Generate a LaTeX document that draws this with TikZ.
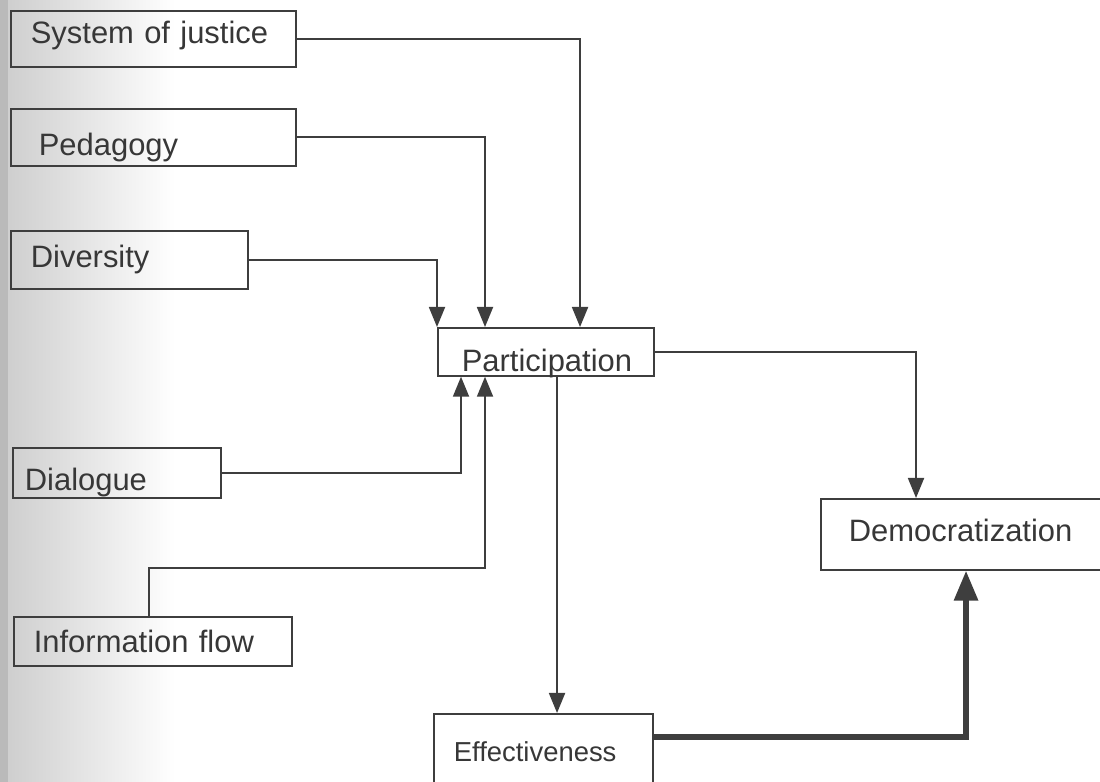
\documentclass[tikz,border=0pt]{standalone}
\usepackage{fontspec}
\setmainfont{Liberation Sans}
\usetikzlibrary{arrows.meta,positioning,calc}
\definecolor{inkgray}{RGB}{62,62,62}
\definecolor{textgray}{RGB}{55,55,55}
\tikzset{
    % Factor box style
    factor/.style={
        rectangle, draw=inkgray, line width=1.2pt,
        anchor=north west, align=left,
        inner xsep=0.5cm, inner ysep=0pt, text depth=0pt,
        text=textgray, font=\fontsize{22}{26}\selectfont
    },
    % Connector style
    flow/.style={
        -{Triangle[length=0.5cm,width=0.4cm]}, draw=inkgray, line width=1.3pt
    },
    % Bold connector style
    boldflow/.style={
        -{Triangle[length=0.75cm,width=0.58cm]}, draw=inkgray, line width=4pt
    }
}

\begin{document}
\begin{tikzpicture}[x=0.025cm, y=-0.025cm]
\useasboundingbox (0,0) rectangle (1100,782);
\clip (0,0) rectangle (1100,782);
% scanned page shading on the left
\shade[left color=black!19, right color=white] (8,0) rectangle (175,782);
\fill[black!27] (0,0) rectangle (8,782);

% Input factors
\node[factor, text width=6.125cm, minimum height=1.4cm, text height=0.25cm] (justice) at (10,10) {System of justice};
\node[factor, text width=6.125cm, minimum height=1.425cm, text height=0.925cm] (pedagogy) at (10,108) {\hspace{0.2cm}Pedagogy};
\node[factor, text width=4.6cm, minimum height=1.25cm, inner xsep=0.3cm, text height=0.9cm] (dialogue) at (12,447) {Dialogue};
\node[factor, text width=4.925cm, minimum height=1.45cm, text height=0.4cm] (diversity) at (10,230) {Diversity};
\node[factor, text width=5.95cm, minimum height=1.225cm, text height=0.575cm] (infoflow) at (13,616) {Information flow};

% Outcomes
\node[factor, text width=4.4cm, minimum height=1.2cm, text height=1cm] (participation) at (437,327) {\hspace{0.1cm}Participation};
\node[factor, text width=6.25cm, minimum height=1.775cm, inner xsep=0.7cm, text height=0.375cm] (democratization) at (820,498) {Democratization};
\node[factor, text width=4.475cm, minimum height=2cm, text height=0.4cm, font=\fontsize{19.5}{23}\selectfont] (effectiveness) at (433,713) {Effectiveness};

% Add connectors
\draw[flow] (justice.east) -| ([xshift=3.575cm]participation.north west);
\draw[flow] (pedagogy.east) -| ([xshift=1.2cm]participation.north west);
\draw[flow] (diversity.east) -| (participation.north west);
\draw[flow] (dialogue.east) -| ([xshift=0.6cm]participation.south west);
\draw[flow] ([xshift=3.4cm]infoflow.north west) -- ++(0,1.2cm) -| ([xshift=1.2cm]participation.south west);

\coordinate (pdown) at ([xshift=3cm]participation.south west);
\draw[flow] (pdown) -- (pdown |- effectiveness.north);
\draw[flow] (participation.east) -| ([xshift=2.4cm]democratization.north west);
\draw[boldflow] ([yshift=-0.6cm]effectiveness.north east) -| ([xshift=3.65cm]democratization.south west);

\end{tikzpicture}
\end{document}
